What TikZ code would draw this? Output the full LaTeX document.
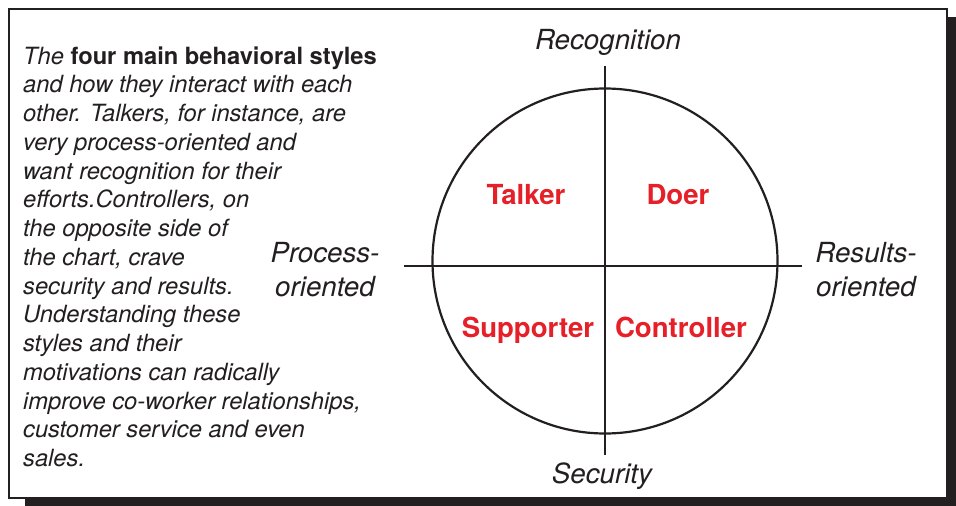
\documentclass[tikz,border=0pt]{standalone}
\usepackage{fontspec}
\setmainfont{TeX Gyre Heros}
\definecolor{ink}{RGB}{35,31,32}
\definecolor{stylered}{RGB}{230,32,41}
\tikzset{
  axislabel/.style={font=\fontsize{27.7}{34.5}\selectfont\itshape, text=ink, inner sep=0pt, align=center},
  stylelabel/.style={font=\fontsize{27.6}{33}\selectfont\bfseries, text=stylered, inner sep=0pt, anchor=base},
  bodyline/.style={font=\fontsize{23.7}{28.8}\selectfont\itshape, text=ink, inner sep=0pt, anchor=base west},
  axisline/.style={draw=ink, line width=2.2pt},
}
\begin{document}
\begin{tikzpicture}[x=1pt,y=-1pt]
  \useasboundingbox (0,0) rectangle (956,506);
  % frame with drop shadow
  \fill[ink] (25,17) rectangle (956,506);
  \draw[ink, fill=white, line width=2.5pt] (9,9) rectangle (947,498);

  % descriptive text on the left
  \node[bodyline] (line0) at (23,64) {The \textup{\bfseries four main behavioral styles}};
  \foreach \t [count=\i] in {
    {and how they interact with each},
    {other. Talkers, for instance, are},
    {very process-oriented and},
    {want recognition for their},
    {efforts.Controllers, on},
    {the opposite side of},
    {the chart, crave},
    {security and results.},
    {Understanding these},
    {styles and their},
    {motivations can radically},
    {improve co-worker relationships,},
    {customer service and even},
    {sales.}}
    \node[bodyline] (line\i) at (23,64+28.76*\i) {\t};

  % quadrant chart
  \coordinate (vtop) at (605,66);
  \coordinate (vbot) at (605,455);
  \coordinate (hleft) at (404,266);
  \coordinate (hright) at (802,266);
  \coordinate (centre) at (605,261);
  \draw[axisline] (centre) circle[radius=172.5];
  \draw[axisline] (vtop) -- (vbot);
  \draw[axisline] (hleft) -- (hright);

  % axis labels
  \node[axislabel, anchor=base] (recog) at (608,49) {Recognition};
  \node[axislabel, anchor=base] (secur) at (602,483) {Security};
  \node[axislabel, anchor=north] (proc) at (325,242) {Process-\\oriented};
  \node[axislabel, anchor=north] (resu) at (866,242) {Results-\\oriented};

  % the four styles
  \node[stylelabel] (talker) at (526,204) {Talker};
  \node[stylelabel] (doer) at (678,204) {Doer};
  \node[stylelabel] (supporter) at (528,337) {Supporter};
  \node[stylelabel] (controller) at (681,337) {Controller};
\end{tikzpicture}
\end{document}
